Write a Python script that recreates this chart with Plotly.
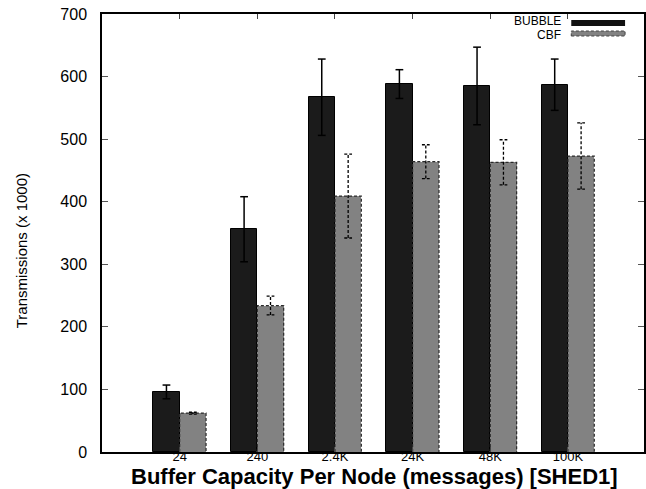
import plotly.graph_objects as go

# Buffer capacity per node and mean transmissions (x 1000) with std-dev error
categories = ["24", "240", "2.4K", "24K", "48K", "100K"]
bubble = [96, 356, 567, 588, 585, 587]
bubble_err = [11, 52, 61, 23, 62, 41]
cbf = [62, 234, 409, 464, 463, 473]
cbf_err = [1.5, 15, 67, 27, 36, 53]

BAR_W = 0.34
CAP = 0.05
FONT = "Liberation Sans, Arial, Helvetica, sans-serif"

xs = list(range(len(categories)))
bubble_c = [x - BAR_W / 2 for x in xs]
cbf_c = [x + BAR_W / 2 for x in xs]


def errbar_path(centers, vals, errs):
    px, py = [], []
    for c, v, e in zip(centers, vals, errs):
        lo, hi = v - e, v + e
        px += [c, c, None, c - CAP, c + CAP, None, c - CAP, c + CAP, None]
        py += [lo, hi, None, hi, hi, None, lo, lo, None]
    return px, py


def outline_path(centers, vals):
    px, py = [], []
    for c, v in zip(centers, vals):
        l, r = c - BAR_W / 2, c + BAR_W / 2
        px += [l, l, r, r, None]
        py += [0, v, v, 0, None]
    return px, py


fig = go.Figure()

fig.add_trace(go.Bar(
    x=xs, y=bubble, offset=-BAR_W, width=BAR_W, name="BUBBLE",
    marker=dict(color="#1b1b1b", line=dict(color="#000000", width=1)),
    showlegend=False,
))
fig.add_trace(go.Bar(
    x=xs, y=cbf, offset=0, width=BAR_W, name="CBF",
    marker=dict(color="#828282", line=dict(width=0)),
    showlegend=False,
))

# dashed border around the CBF bars
ox, oy = outline_path(cbf_c, cbf)
fig.add_trace(go.Scatter(
    x=ox, y=oy, mode="lines", line=dict(color="#2a2a2a", width=1.2, dash="3px,2px"),
    hoverinfo="skip", showlegend=False,
))

# error bars
ex, ey = errbar_path(bubble_c, bubble, bubble_err)
fig.add_trace(go.Scatter(
    x=ex, y=ey, mode="lines", line=dict(color="#000000", width=1.5),
    hoverinfo="skip", showlegend=False,
))
ex, ey = errbar_path(cbf_c, cbf, cbf_err)
fig.add_trace(go.Scatter(
    x=ex, y=ey, mode="lines", line=dict(color="#000000", width=1.3, dash="3px,2px"),
    hoverinfo="skip", showlegend=False,
))

L, R, T, B = 102, 0, 14, 37
W, H = 646, 489
PW, PH = W - L - R, H - T - B


def px_x(p):
    return (p - L) / PW


def px_y(p):
    return (H - B - p) / PH


# legend keys
fig.add_shape(type="rect", xref="paper", yref="paper",
              x0=px_x(573), x1=px_x(627), y0=px_y(26), y1=px_y(20),
              fillcolor="#111111", line=dict(width=0))
fig.add_shape(type="rect", xref="paper", yref="paper",
              x0=px_x(573), x1=px_x(627), y0=px_y(36), y1=px_y(31),
              fillcolor="#828282", line=dict(color="#444444", width=1, dash="3px,2px"))
fig.add_annotation(text="BUBBLE", xref="paper", yref="paper", x=px_x(564), y=px_y(21),
                   xanchor="right", yanchor="middle", showarrow=False, borderpad=0,
                   font=dict(family=FONT, size=12, color="#000000"))
fig.add_annotation(text="CBF", xref="paper", yref="paper", x=px_x(564), y=px_y(34.5),
                   xanchor="right", yanchor="middle", showarrow=False, borderpad=0,
                   font=dict(family=FONT, size=12, color="#000000"))

# axis titles
fig.add_annotation(text="Transmissions (x 1000)", xref="paper", yref="paper",
                   x=px_x(22), y=px_y(251), textangle=-90, showarrow=False,
                   xanchor="center", yanchor="middle",
                   font=dict(family=FONT, size=15, color="#000000"))
fig.add_annotation(text="<b>Buffer Capacity Per Node (messages) [SHED1]</b>",
                   xref="paper", yref="paper", x=px_x(376), y=px_y(476),
                   xanchor="center", yanchor="middle", showarrow=False,
                   font=dict(family=FONT, size=22, color="#000000"))

fig.update_layout(
    width=W, height=H,
    margin=dict(l=L, r=R, t=T, b=B, pad=0),
    paper_bgcolor="white", plot_bgcolor="white",
    barmode="overlay", bargap=0,
    font=dict(family=FONT, size=14, color="#000000"),
)
fig.update_xaxes(
    range=[-1, 5.98], tickmode="array", tickvals=xs, ticktext=categories,
    ticks="inside", ticklen=5, tickcolor="#444444", tickwidth=1,
    showline=True, linecolor="#000000", linewidth=1.5, mirror="ticks",
    showgrid=False, zeroline=False, tickfont=dict(family=FONT, size=13),
    ticklabelstandoff=-8,
)
fig.update_yaxes(
    range=[0, 700], tickmode="array", tickvals=list(range(0, 701, 100)),
    ticks="inside", ticklen=6, tickcolor="#555555", tickwidth=1,
    showline=True, linecolor="#000000", linewidth=1.5, mirror="ticks",
    showgrid=False, zeroline=False, tickfont=dict(family=FONT, size=16),
    ticklabelstandoff=10,
)

fig.write_html("out.html")
